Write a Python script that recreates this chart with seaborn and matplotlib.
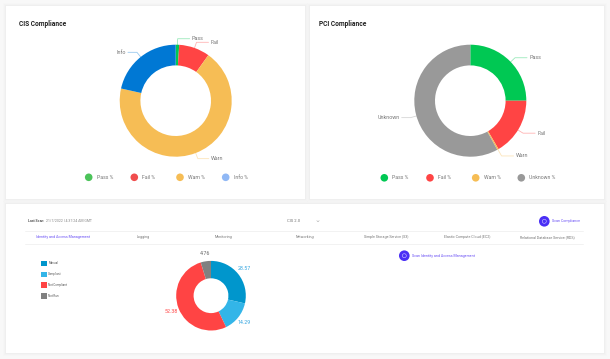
import numpy as np
import pandas as pd
import matplotlib
matplotlib.use("Agg")
import matplotlib.pyplot as plt
from matplotlib.patches import Rectangle, Circle
import seaborn as sns

W, H = 610, 359

cis_title = "CIS Compliance"
cis_slices = ["Pass", "Fail", "Warn", "Info"]
cis_values = [1.0, 8.9, 68.6, 21.5]
cis_colors = ["#00c853", "#ff4444", "#f6bd55", "#0078d4"]
cis_legend = ["Pass %", "Fail %", "Warn %", "Info %"]
cis_legend_colors = ["#4cc35a", "#f04d4d", "#f6bd55", "#90b8f5"]

pci_title = "PCI Compliance"
pci_slices = ["Pass", "Fail", "Warn", "Unknown"]
pci_values = [25.0, 16.6, 0.4, 58.0]
pci_colors = ["#00c853", "#ff4444", "#f6bd55", "#999999"]
pci_legend = ["Pass %", "Fail %", "Warn %", "Unknown %"]
pci_legend_colors = ["#00c853", "#ff4444", "#f6bd55", "#999999"]

iam_slices = ["Manual", "Compliant", "Not Compliant", "Not Run"]
iam_values = [28.57, 14.29, 52.38, 4.76]
iam_colors = ["#0096cc", "#33b5e8", "#ff4444", "#808080"]
iam_label_colors = ["#33a5e0", "#33a5e0", "#ff4444", "#666666"]

tabs = ["Identity and Access Management", "Logging", "Monitoring", "Networking",
        "Simple Storage Service (S3)", "Elastic Compute Cloud (EC2)",
        "Relational Database Service (RDS)"]

sns.set_theme(style="white")
plt.rcParams["font.family"] = ["Roboto", "DejaVu Sans"]

fig = plt.figure(figsize=(W / 100, H / 100), dpi=100, facecolor="#f8f8f8")
ov = fig.add_axes([0, 0, 1, 1], zorder=3)
ov.set_xlim(0, W); ov.set_ylim(H, 0); ov.axis("off"); ov.patch.set_alpha(0)
bg = fig.add_axes([0, 0, 1, 1], zorder=0)
bg.set_xlim(0, W); bg.set_ylim(H, 0); bg.axis("off"); bg.patch.set_alpha(0)

for (x0, y0, x1, y1) in [(6, 6, 305, 199), (310, 6, 604, 199), (6, 204, 604, 353)]:
    for g, a in [(3, .008), (2, .012), (1, .016)]:
        bg.add_patch(Rectangle((x0 - g, y0 - g), x1 - x0 + 2 * g, y1 - y0 + 2 * g,
                               fc="black", ec="none", alpha=a))
    bg.add_patch(Rectangle((x0, y0), x1 - x0, y1 - y0, fc="white", ec="none"))


def donut(cx, cy, r, inner, values, colors):
    ax = fig.add_axes([(cx - r) / W, 1 - (cy + r) / H, 2 * r / W, 2 * r / H], zorder=2)
    ax.pie(values, colors=colors, startangle=90, counterclock=False, radius=1,
           wedgeprops=dict(width=1 - inner / r, linewidth=0))
    ax.set_xlim(-1, 1); ax.set_ylim(-1, 1)
    return ax


def mids(values):
    c = np.cumsum(values)
    return (c - np.asarray(values) / 2) / c[-1] * 2 * np.pi


def leader(cx, cy, r, values, names, colors, specs):
    for ang, nm, col, (bump, run, shift) in zip(mids(values), names, colors, specs):
        ang = ang + shift
        sx, ex = np.sin(ang), -np.cos(ang)
        side = 1 if sx >= 0 else -1
        p0 = (cx + (r - 1) * sx, cy + (r - 1) * ex)
        p1 = (cx + (r + bump) * sx, cy + (r + bump) * ex)
        p2 = (p1[0] + side * run, p1[1])
        ov.plot([p0[0], p1[0], p2[0]], [p0[1], p1[1], p2[1]], color=col, lw=.6, alpha=.4)
        ov.text(p2[0] + side * 2, p2[1], nm, fontsize=3.9, color="#777777",
                ha="left" if side > 0 else "right", va="center")


def dots(xs, y, labels, colors, tx):
    df = pd.DataFrame({"x": xs, "y": [y] * len(xs), "k": labels})
    sns.scatterplot(data=df, x="x", y="y", hue="k", palette=colors, s=30, linewidth=0,
                    legend=False, ax=ov)
    for x, t in zip(xs, labels):
        ov.text(x + tx, y, t, fontsize=3.7, color="#777777", va="center")


CY, R, RI = 100.7, 56, 35.3
donut(175.7, CY, R, RI, cis_values, cis_colors)
leader(175.7, CY, R, cis_values, cis_slices, cis_colors,
       [(6, 12, 0), (6, 12, 0), (6, 11, 0), (6, 9, 0)])
donut(470.3, CY, R, RI, pci_values, pci_colors)
leader(470.3, CY, R, pci_values, pci_slices, pci_colors,
       [(6, 12, .02), (6, 12, .03), (7.5, 12, 0), (6, 9, -.025)])

ov.text(19.3, 23.5, cis_title, fontsize=4.8, fontweight="bold", color="#222222", va="center")
ov.text(318.7, 23.5, pci_title, fontsize=4.8, fontweight="bold", color="#222222", va="center")
dots([88.7, 134.3, 180, 225.7], 177.3, cis_legend, cis_legend_colors, 8)
dots([384.3, 430, 475.7, 521.3], 177.8, pci_legend, pci_legend_colors, 8)

# bottom card
iam = donut(211, 295.7, 34.8, 17.4, iam_values, iam_colors)
for ang, v, col in zip(mids(iam_values), iam_values, iam_label_colors):
    iam.text(1.235 * np.sin(ang), 1.235 * np.cos(ang), f"{v:.2f}", fontsize=3.8,
             color=col, ha="center", va="center", clip_on=False)

ov.text(28, 221, "Last Scan:", fontsize=2.5, fontweight="bold", color="#555555", va="center")
ov.text(45.7, 221, "21/7/2022 | 4:37:24 AM GMT", fontsize=2.55, color="#888888", va="center")
ov.text(287, 221, "CIS 2.0", fontsize=3.0, color="#777777", va="center")
ov.plot([316.8, 318, 319.2], [220.6, 221.8, 220.6], color="#aaaaaa", lw=.4)
for y in (231.3, 244.3):
    ov.plot([25, 583], [y, y], color="#f0f0f0", lw=.6)
for i, (x, t) in enumerate(zip([63, 143, 224, 305, 386, 467, 547], tabs)):
    ov.text(x, 236.8, t, fontsize=2.6, color="#6a50f5" if i == 0 else "#777777",
            ha="center", va="center")

for x, y, t in [(544.3, 221.3, "Scan Compliance"), (404.3, 255.7, "Scan Identity and Access Management")]:
    ov.add_patch(Circle((x, y), 5.3, fc="#4a2ff5", ec="none"))
    ov.add_patch(Circle((x, y), 2.0, fc="none", ec="#cfc8ff", lw=.4))
    ov.text(x + 8, y, t, fontsize=2.6, color="#6a50f5", va="center")

for y, t, c in zip([263.3, 274.3, 285, 295.7], iam_slices, iam_colors):
    ov.add_patch(Rectangle((41, y - 2.8), 5.7, 5.6, fc=c, ec="none"))
    ov.text(48.3, y, t, fontsize=2.1, color="#555555", va="center")

ov.set_xlim(0, W); ov.set_ylim(H, 0); ov.set_xlabel(""); ov.set_ylabel("")
fig.savefig("out.png", dpi=100, facecolor=fig.get_facecolor())
